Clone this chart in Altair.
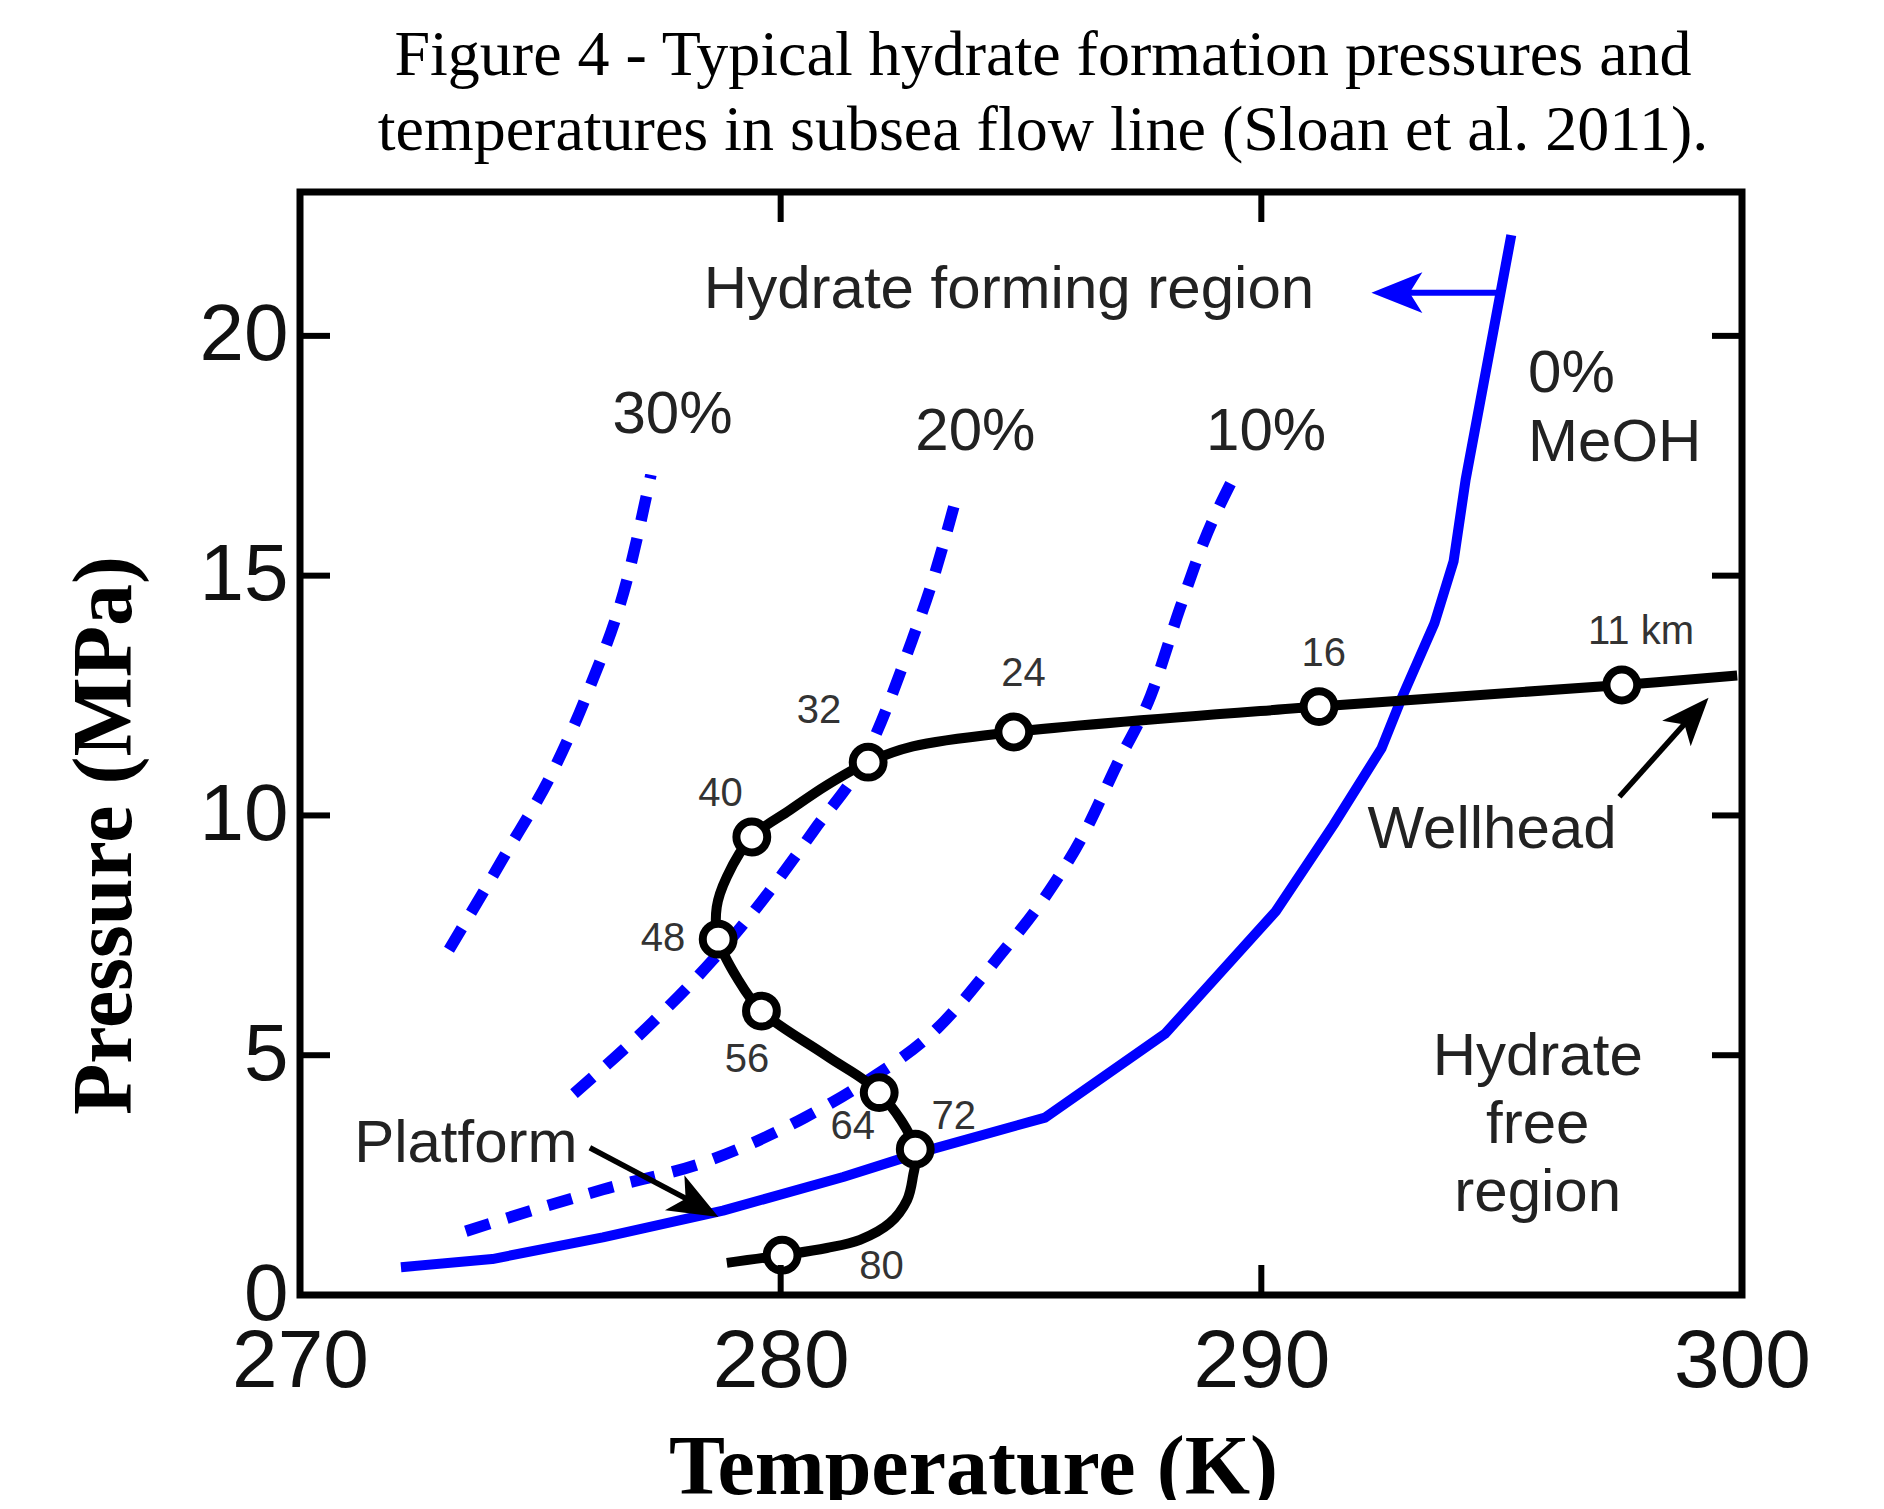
import altair as alt
import pandas as pd

# ---------------- data ----------------
# 0 % MeOH hydrate equilibrium curve (solid blue)
meoh0_T = [272.1, 274.0, 276.3, 278.8, 281.3, 283.0, 285.5, 288.0, 290.3, 291.5, 292.5, 292.9, 293.6, 294.0, 294.25, 295.2]
meoh0_P = [0.58, 0.75, 1.2, 1.76, 2.46, 3.0, 3.7, 5.45, 8.0, 9.8, 11.4, 12.4, 14.0, 15.3, 17.0, 22.1]

# dashed methanol curves
meoh10_T = [273.45, 274.3, 276.3, 278.5, 280.5, 281.7, 283.3, 284.55, 285.5, 286.3, 287.0, 287.7, 288.3, 288.8, 289.4]
meoh10_P = [1.33, 1.6, 2.2, 2.8, 3.7, 4.4, 5.6, 7.07, 8.3, 9.6, 11.07, 12.5, 14.3, 15.7, 17.0]
meoh20_T = [275.7, 277.45, 278.6, 279.6, 280.7, 281.8, 282.75, 283.1, 283.7]
meoh20_P = [4.2, 5.8, 7.0, 8.2, 9.7, 11.3, 13.7, 14.7, 16.8]
meoh30_T = [273.1, 274.25, 275.3, 276.0, 276.8, 277.3]
meoh30_P = [7.2, 9.15, 11.0, 12.6, 14.9, 17.1]

# flow line (black), from platform end to wellhead end
flow_T = [278.88, 280.03, 280.96, 281.65, 282.27, 282.63, 282.75, 282.8, 282.05, 280.95, 279.6, 279.1, 278.7,
          278.67, 278.88, 279.4, 280.19, 280.96, 281.82, 282.75, 284.85, 291.2, 297.5, 299.9]
flow_P = [0.67, 0.83, 0.98, 1.15, 1.5, 1.98, 2.46, 3.04, 4.22, 4.99, 5.92, 6.6, 7.42,
          8.09, 8.72, 9.55, 10.11, 10.63, 11.11, 11.44, 11.74, 12.27, 12.72, 12.92]

# distance markers on the flow line
mark_T = [297.5, 291.2, 284.85, 281.82, 279.4, 278.7, 279.6, 282.05, 282.8, 280.03]
mark_P = [12.72, 12.27, 11.74, 11.11, 9.55, 7.42, 5.92, 4.22, 3.04, 0.83]
mark_lab = ["11 km", "16", "24", "32", "40", "48", "56", "64", "72", "80"]
mark_lab_T = [297.9, 291.3, 285.05, 280.8, 278.75, 277.55, 279.3, 281.5, 283.6, 282.1]
mark_lab_P = [13.83, 13.37, 12.95, 12.17, 10.44, 7.43, 4.89, 3.51, 3.71, 0.58]

# annotation texts (centered)
ann_text = ["Hydrate forming region", "30%", "20%", "10%", "Platform", "Wellhead", "Hydrate", "free", "region"]
ann_T = [284.75, 277.75, 284.05, 290.1, 273.45, 294.8, 295.75, 295.75, 295.75]
ann_P = [20.95, 18.34, 18.0, 18.0, 3.14, 9.69, 4.97, 3.54, 2.13]
# annotation texts (left aligned)
ann_left_text = ["0%", "MeOH"]
ann_left_T = [295.55, 295.55]
ann_left_P = [19.2, 17.77]

# arrows: shaft start/end and head centre
blue_arrow_T = [294.92, 292.9]
blue_arrow_P = [20.9, 20.9]
blue_head_T = [292.82]
blue_head_P = [20.9]
plat_arrow_T = [276.03, 278.3]
plat_arrow_P = [3.07, 1.87]
plat_head_T = [278.25]
plat_head_P = [1.88]
well_arrow_T = [297.45, 298.95]
well_arrow_P = [10.39, 12.07]
well_head_T = [298.97]
well_head_P = [12.08]

# axis tick values
x_ticks = [270, 280, 290, 300]
y_ticks = [0, 5, 10, 15, 20]
x_inner_ticks = [280, 290]
y_inner_ticks = [5, 10, 15, 20]

W, H = 1442, 1103
BLUE = "#0000ff"
TXT = "#222222"

xs = alt.Scale(domain=[270, 300], nice=False, zero=False)
ys = alt.Scale(domain=[0, 23], nice=False, zero=False)

x_axis = alt.Axis(values=x_ticks, grid=False, domain=False, ticks=False, tickSize=0,
                  labelFont="Liberation Sans", labelFontSize=82, labelColor="#111111",
                  labelPadding=26, labelFlush=False, labelOverlap=False,
                  title="Temperature (K)", titleFont="Liberation Serif", titleFontSize=84,
                  titleFontWeight="bold", titleColor="black", titleX=673, titleY=198,
                  titleAlign="center", titleBaseline="alphabetic")
y_axis = alt.Axis(values=y_ticks, grid=False, domain=False, ticks=False, tickSize=0,
                  labelFont="Liberation Sans", labelFontSize=80, labelColor="#111111",
                  labelPadding=12, labelFlush=False, labelOverlap=False,
                  title="Pressure (MPa)", titleFont="Liberation Serif", titleFontSize=84,
                  titleFontWeight="bold", titleColor="black", titleAngle=270,
                  titleX=-170, titleY=643, titleAlign="center", titleBaseline="alphabetic")


def X():
    return alt.X("T:Q", scale=xs, axis=x_axis)


def Y():
    return alt.Y("P:Q", scale=ys, axis=y_axis)


def df(T, P, **extra):
    d = {"T": T, "P": P, "i": list(range(len(T)))}
    d.update(extra)
    return pd.DataFrame(d)


dashed = pd.concat([
    df(meoh10_T, meoh10_P, s=["10%"] * len(meoh10_T)),
    df(meoh20_T, meoh20_P, s=["20%"] * len(meoh20_T)),
    df(meoh30_T, meoh30_P, s=["30%"] * len(meoh30_T)),
])

dash_layer = alt.Chart(dashed).mark_line(color=BLUE, strokeWidth=11.5, strokeDash=[25, 18],
                                         interpolate="monotone").encode(
    x=X(), y=Y(), detail="s:N", order="i:Q")

solid_layer = alt.Chart(df(meoh0_T, meoh0_P)).mark_line(color=BLUE, strokeWidth=10,
                                                        strokeJoin="round").encode(
    x=X(), y=Y(), order="i:Q")

flow_layer = alt.Chart(df(flow_T, flow_P)).mark_line(color="black", strokeWidth=10,
                                                     interpolate="catmull-rom").encode(
    x=X(), y=Y(), order="i:Q")

circ_layer = alt.Chart(df(mark_T, mark_P)).mark_point(
    shape="circle", filled=True, fill="white", stroke="black", strokeWidth=8,
    size=950, opacity=1).encode(x=X(), y=Y())

mark_text_layer = alt.Chart(df(mark_lab_T, mark_lab_P, lab=mark_lab)).mark_text(
    font="Liberation Sans", fontSize=40, color="#333333", align="center",
    baseline="middle").encode(x=X(), y=Y(), text="lab:N")

ann_layer = alt.Chart(df(ann_T, ann_P, lab=ann_text)).mark_text(
    font="Liberation Sans", fontSize=60, color=TXT, align="center",
    baseline="middle").encode(x=X(), y=Y(), text="lab:N")

ann_left_layer = alt.Chart(df(ann_left_T, ann_left_P, lab=ann_left_text)).mark_text(
    font="Liberation Sans", fontSize=60, color=TXT, align="left",
    baseline="middle").encode(x=X(), y=Y(), text="lab:N")


def shaft(T, P, color, width):
    d = pd.DataFrame({"T": [T[0]], "P": [P[0]], "T2": [T[1]], "P2": [P[1]]})
    return alt.Chart(d).mark_rule(color=color, strokeWidth=width).encode(
        x=X(), y=Y(), x2="T2:Q", y2="P2:Q")


HEAD_RIGHT = "M1,0L-1,-0.8L-0.5,0L-1,0.8Z"
HEAD_LEFT = "M-1,0L1,-0.8L0.5,0L1,0.8Z"


def head(T, P, color, shape, angle, size):
    return alt.Chart(df(T, P)).mark_point(shape=shape, filled=True, color=color, opacity=1,
                                          strokeWidth=0, size=size, angle=angle).encode(
        x=X(), y=Y())


blue_shaft = shaft(blue_arrow_T, blue_arrow_P, BLUE, 6)
blue_head = head(blue_head_T, blue_head_P, BLUE, HEAD_LEFT, 0, 2600)
plat_shaft = shaft(plat_arrow_T, plat_arrow_P, "black", 5.5)
plat_head = head(plat_head_T, plat_head_P, "black", HEAD_RIGHT, 29, 2500)
well_shaft = shaft(well_arrow_T, well_arrow_P, "black", 5.5)
well_head = head(well_head_T, well_head_P, "black", HEAD_RIGHT, 312, 2300)

# inward ticks on all four sides
xt = pd.DataFrame({"T": x_inner_ticks})
yt = pd.DataFrame({"P": y_inner_ticks})
tick_b = alt.Chart(xt).mark_rule(color="black", strokeWidth=6).encode(
    x=X(), y=alt.value(H), y2=alt.value(H - 30))
tick_t = alt.Chart(xt).mark_rule(color="black", strokeWidth=6).encode(
    x=X(), y=alt.value(0), y2=alt.value(30))
tick_l = alt.Chart(yt).mark_rule(color="black", strokeWidth=6).encode(
    y=Y(), x=alt.value(0), x2=alt.value(30))
tick_r = alt.Chart(yt).mark_rule(color="black", strokeWidth=6).encode(
    y=Y(), x=alt.value(W), x2=alt.value(W - 30))

chart = alt.layer(
    dash_layer, solid_layer, blue_shaft, blue_head,
    flow_layer, circ_layer,
    plat_shaft, plat_head, well_shaft, well_head,
    tick_b, tick_t, tick_l, tick_r,
    mark_text_layer, ann_layer, ann_left_layer,
).properties(
    width=W, height=H,
    background="white",
    title=alt.TitleParams(
        text=["Figure 4 - Typical hydrate formation pressures and",
              "temperatures in subsea flow line (Sloan et al. 2011)."],
        font="Liberation Serif", fontSize=64, fontWeight="normal", lineHeight=75,
        color="black", anchor="middle", dx=22, offset=26),
    padding={"left": 292, "top": 184, "right": 100, "bottom": 205},
    autosize=alt.AutoSizeParams(type="none"),
).configure_view(stroke="black", strokeWidth=7)

chart.save("out.html", embed_options={"renderer": "svg", "actions": False})
